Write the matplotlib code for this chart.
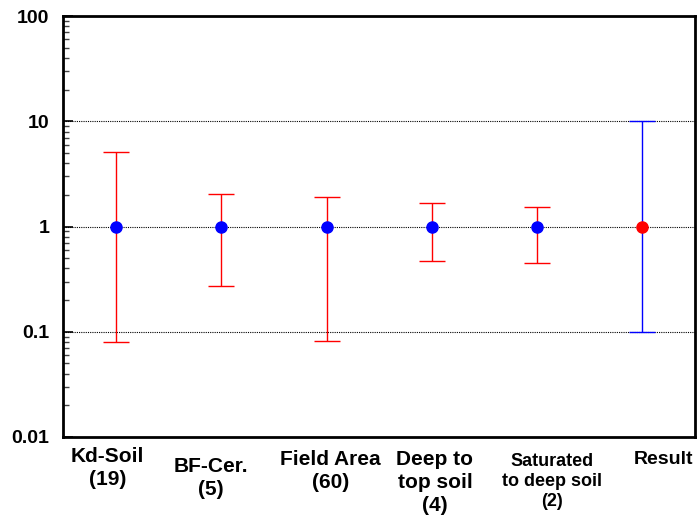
import matplotlib
matplotlib.use("Agg")
import matplotlib.pyplot as plt
import numpy as np

plt.rcParams['font.family'] = ['Liberation Sans', 'DejaVu Sans']

# datos del grafico
categorias = ['Kd-Soil\n(19)', 'BF-Cer.\n(5)', 'Field Area\n(60)', 'Deep to\ntop soil\n(4)',
              'Saturated\nto deep soil\n(2)', 'Result']
valores = [1.0, 1.0, 1.0, 1.0, 1.0, 1.0]
superior = [5.1, 2.06, 1.9, 1.67, 1.53, 10.0]
inferior = [0.080, 0.27, 0.082, 0.47, 0.45, 0.1]

# estilos por categoria
color_barra = ['red', 'red', 'red', 'red', 'red', 'blue']
color_punto = ['blue', 'blue', 'blue', 'blue', 'blue', 'red']
tam_letra = [15, 15, 15, 15, 13, 14]
desp_x = [-0.08, -0.095, 0.04, 0.03, 0.14, 0.2]
desp_y = [-0.024, -0.048, -0.031, -0.031, -0.038, -0.033]

fig, ax = plt.subplots(figsize=(6.97, 5.19), dpi=100)
fig.subplots_adjust(left=0.091, right=0.997, top=0.969, bottom=0.158)

x = np.arange(len(categorias))
for i in range(len(categorias)):
    err = [[valores[i] - inferior[i]], [superior[i] - valores[i]]]
    ax.errorbar(x[i], valores[i], yerr=err, fmt='none', ecolor=color_barra[i],
                elinewidth=1, capsize=9.5, capthick=1, zorder=2)
    ax.plot(x[i], valores[i], 'o', color=color_punto[i], markersize=8, zorder=3)

ax.set_yscale('log')
ax.set_ylim(0.01, 100)
ax.set_xlim(-0.5, len(categorias) - 0.5)

for v in [10, 1, 0.1]:
    ax.axhline(v, color='black', linestyle=(0, (1, 1)), linewidth=0.8, zorder=1)

ax.set_yticks([0.01, 0.1, 1, 10, 100])
ax.set_yticklabels(['0.01', '0.1', '1', '10', '100'], fontsize=14, fontweight='bold')
ax.tick_params(axis='y', which='major', direction='in', length=7, width=1.2, pad=10)
ax.tick_params(axis='y', which='minor', direction='in', length=4.5, width=1, color='#444444')
ax.set_xticks([])

for lado in ax.spines.values():
    lado.set_linewidth(2)

for i, cat in enumerate(categorias):
    ax.text(x[i] + desp_x[i], desp_y[i], cat, transform=ax.get_xaxis_transform(),
            ha='center', va='top', fontsize=tam_letra[i], fontweight='bold', linespacing=1.25)

plt.savefig('out.png', dpi=100)
